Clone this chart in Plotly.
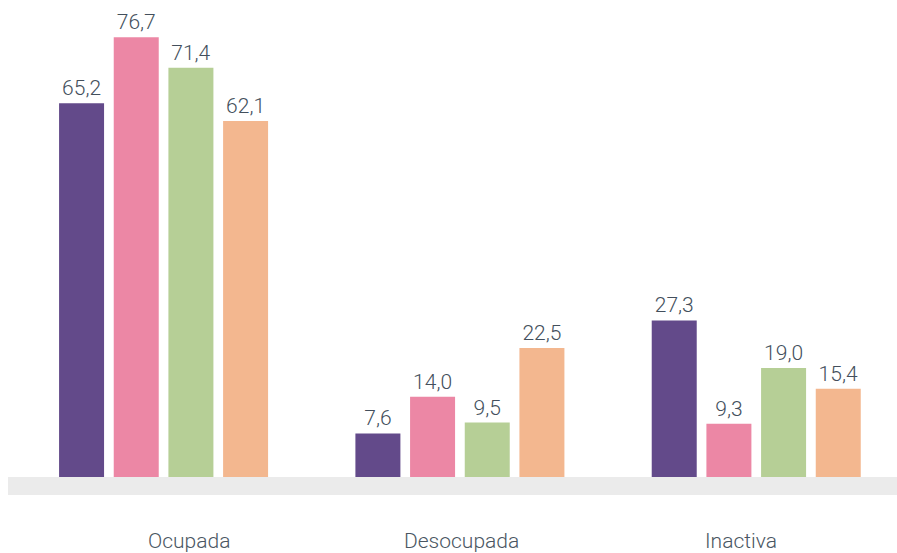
import plotly.graph_objects as go

categories = ["Ocupada", "Desocupada", "Inactiva"]
series_names = ["Grupo 1", "Grupo 2", "Grupo 3", "Grupo 4"]
values_1 = [65.2, 7.6, 27.3]
values_2 = [76.7, 14.0, 9.3]
values_3 = [71.4, 9.5, 19.0]
values_4 = [62.1, 22.5, 15.4]
colors = ["#634a8a", "#ec87a5", "#b6cf96", "#f3b78f"]

all_values = [values_1, values_2, values_3, values_4]
label_shifts = [25, 2, -15]

fig = go.Figure()
for name, vals, col in zip(series_names, all_values, colors):
    fig.add_trace(go.Bar(
        x=categories, y=vals, name=name,
        marker=dict(color=col, line=dict(width=0)),
        texttemplate="%{y:.1f}", textposition="outside",
        textfont=dict(family="Roboto", size=21, color="#434f5c", weight=300),
        cliponaxis=False,
    ))

fig.add_shape(type="rect", xref="paper", yref="y", x0=0, x1=1, y0=-3.14, y1=0,
              fillcolor="#ebebeb", line=dict(width=0), layer="below")

for cat, sh in zip(categories, label_shifts):
    fig.add_annotation(x=cat, xref="x", y=0, yref="paper", yshift=-46, xshift=sh,
                       text=cat, showarrow=False, yanchor="middle", xanchor="center",
                       font=dict(family="Roboto", size=21, color="#4a5662", weight=300))

fig.update_layout(
    width=897, height=553,
    margin=dict(l=8, r=0, t=0, b=58, autoexpand=False),
    paper_bgcolor="white", plot_bgcolor="white",
    separators=",.",
    barmode="group", bargap=0.262, bargroupgap=0.177,
    showlegend=False,
    font=dict(family="Roboto", color="#4a5662"),
    xaxis=dict(range=[-0.525, 2.475], showgrid=False, zeroline=False, showline=False,
               automargin=False, showticklabels=False, ticks=""),
    yaxis=dict(range=[-3.14, 83.2], visible=False, automargin=False),
)

fig.write_html("out.html", config={"displayModeBar": False},
               post_script="document.body.style.margin='0';document.body.style.overflow='hidden';")
